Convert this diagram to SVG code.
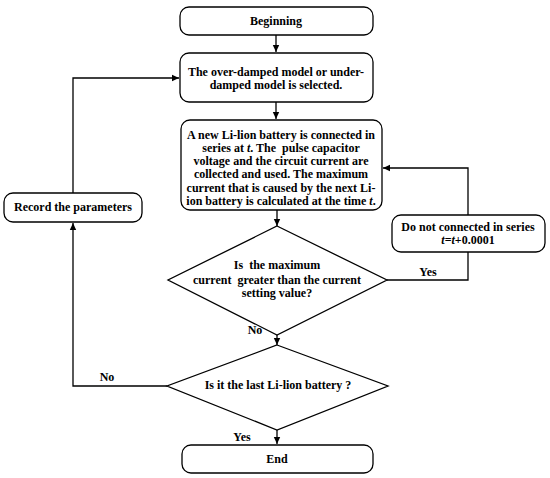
<svg xmlns="http://www.w3.org/2000/svg" width="550" height="478" viewBox="0 0 550 478">
<style>
.box{fill:#fff;stroke:#000;stroke-width:1.3}
.t{font-family:"Liberation Serif","Times New Roman",serif;font-weight:bold;font-size:12px;fill:#000;text-anchor:middle;white-space:pre}
.c{fill:none;stroke:#000;stroke-width:1.3}
</style>
<defs>
<marker id="ah" markerWidth="8" markerHeight="8" refX="7" refY="4" orient="auto" markerUnits="userSpaceOnUse">
<path d="M0,0.8 L7,4 L0,7.2 Z" fill="#000"/>
</marker>
</defs>
<rect width="550" height="478" fill="#fff"/>
<g id="connectors">
<path class="c" d="M276,35 V52" marker-end="url(#ah)"/>
<path class="c" d="M276,102 V119" marker-end="url(#ah)"/>
<path class="c" d="M277,210 V226" marker-end="url(#ah)"/>
<path class="c" d="M387,280 H468 V252"/>
<path class="c" d="M468,215 V168 H383" marker-end="url(#ah)"/>
<path class="c" d="M277,335 V345" marker-end="url(#ah)"/>
<path class="c" d="M277,430 V444" marker-end="url(#ah)"/>
<path class="c" d="M167,386 H73 V223" marker-end="url(#ah)"/>
<path class="c" d="M73,193 V78 H179" marker-end="url(#ah)"/>
<text class="t" x="428" y="276">Yes</text>
<text class="t" x="255" y="334">No</text>
<text class="t" x="107" y="381">No</text>
<text class="t" x="242" y="441">Yes</text>
</g>
<g id="begin">
<rect class="box" x="180" y="7" width="193" height="28" rx="9"/>
<text class="t" x="276" y="25">Beginning</text>
</g>
<g id="select">
<rect class="box" x="180" y="53" width="193" height="49" rx="9"/>
<text class="t" x="276" y="76">The over-damped model or under-</text>
<text class="t" x="276" y="89">damped model is selected.</text>
</g>
<g id="connect">
<rect class="box" x="181" y="120" width="201" height="90" rx="9"/>
<text class="t" x="281" y="139">A new Li-lion battery is connected in</text>
<text class="t" x="281" y="152">series at <tspan font-style="italic">t</tspan>. The  pulse capacitor</text>
<text class="t" x="281" y="165">voltage and the circuit current are</text>
<text class="t" x="281" y="178">collected and used. The maximum</text>
<text class="t" x="281" y="192">current that is caused by the next Li-</text>
<text class="t" x="281" y="205">ion battery is calculated at the time <tspan font-style="italic">t</tspan>.</text>
</g>
<g id="record">
<rect class="box" x="4" y="193" width="138" height="29" rx="9"/>
<text class="t" x="73" y="211">Record the parameters</text>
</g>
<g id="notconnected">
<rect class="box" x="392" y="215" width="153" height="37" rx="9"/>
<text class="t" x="468" y="231">Do not connected in series</text>
<text class="t" x="468" y="244"><tspan font-style="italic">t</tspan>=<tspan font-style="italic">t</tspan>+0.0001</text>
</g>
<g id="decision1">
<polygon class="box" points="277,226 387,280 277,335 168,280"/>
<text class="t" x="277" y="269">Is  the maximum</text>
<text class="t" x="277" y="284">current  greater than the current</text>
<text class="t" x="277" y="297">setting value?</text>
</g>
<g id="decision2">
<polygon class="box" points="277,345 388,386 277,430 167,386"/>
<text class="t" x="278" y="389">Is it the last Li-lion battery ?</text>
</g>
<g id="end">
<rect class="box" x="182" y="445" width="191" height="28" rx="9"/>
<text class="t" x="277" y="463">End</text>
</g>
</svg>
